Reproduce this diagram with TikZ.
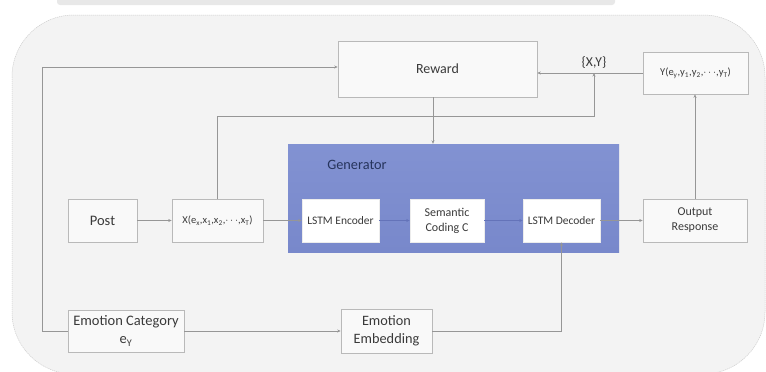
\documentclass[tikz,border=0pt]{standalone}
\usepackage{fontspec}
\setmainfont{Carlito}
\usetikzlibrary{arrows.meta}

\definecolor{panelfill}{RGB}{243,243,243}
\definecolor{panelrim}{RGB}{205,205,205}
\definecolor{edgegray}{RGB}{185,185,185}
\definecolor{boxfill}{RGB}{249,249,249}
\definecolor{linegray}{RGB}{150,150,150}
\definecolor{txt}{RGB}{58,58,58}
\definecolor{genblue}{RGB}{120,136,203}
\definecolor{genbluetop}{RGB}{130,146,210}
\definecolor{genline}{RGB}{100,115,185}
\definecolor{gentext}{RGB}{38,52,92}
\definecolor{markgray}{RGB}{232,232,232}

\newcommand{\fsz}[1]{\fontsize{#1}{#1}\selectfont}

\begin{document}
\begin{tikzpicture}[x=1pt,y=-1pt,
  box/.style={draw=edgegray, fill=boxfill, line width=0.6pt, text=txt,
              align=center, inner sep=0pt},
  innerbox/.style={box, fill=white, draw=white!85!gray},
  conn/.style={draw=linegray, line width=0.6pt,
               -{Stealth[length=3.5pt,width=3pt]}},
  genconn/.style={conn, draw=genline}]

% canvas
\useasboundingbox (0,0) rectangle (766,372);
\fill[white] (0,0) rectangle (766,372);
\fill[markgray, rounded corners=3pt] (57,-6) rectangle (615,5);

% rounded background panel
\draw[panelrim, fill=panelfill, line width=0.5pt,
      dash pattern=on 1.2pt off 0.8pt, rounded corners=62pt]
  (12,15) rectangle (765,374);

% generator block
\node[draw=none, top color=genbluetop, bottom color=genblue,
      minimum width=331pt, minimum height=108pt, inner sep=0pt]
  (gen) at (453.5,198) {};
\node[text=gentext, font=\fsz{14.3}] (genlabel) at (357,165) {Generator};

% boxes
\node[box, minimum width=199pt, minimum height=56pt, font=\fsz{14}]
  (reward) at (437.5,69) {Reward};
\node[box, minimum width=105pt, minimum height=42pt, font=\fsz{10.5}]
  (ybox) at (695.5,73)
  {Y(e\textsubscript{y},y\textsubscript{1},y\textsubscript{2},$\cdots$,y\textsubscript{T})};
\node[box, minimum width=69pt, minimum height=43pt, font=\fsz{14.5}]
  (post) at (102.5,220.5) {Post};
\node[box, minimum width=91pt, minimum height=43pt, font=\fsz{10.5}]
  (xbox) at (217.5,220.5)
  {X(e\textsubscript{x},x\textsubscript{1},x\textsubscript{2},$\cdots$,x\textsubscript{T})};
\node[innerbox, minimum width=77pt, minimum height=43pt, font=\fsz{11.5}]
  (enc) at (340.5,220.5) {LSTM Encoder};
\node[innerbox, minimum width=74pt, minimum height=43pt,
      font=\fontsize{12}{15}\selectfont]
  (sem) at (447,220.5) {Semantic\\Coding C};
\node[innerbox, minimum width=77pt, minimum height=43pt, font=\fsz{11.5}]
  (dec) at (561.5,220.5) {LSTM Decoder};
\node[box, minimum width=104pt, minimum height=43pt,
      font=\fontsize{12}{15}\selectfont]
  (out) at (695,220.5) {Output\\Response};
\node[box, minimum width=116pt, minimum height=42pt,
      font=\fontsize{14.5}{20}\selectfont]
  (emocat) at (126,331) {Emotion Category\\[-2pt]e\textsubscript{Y}};
\node[box, minimum width=91pt, minimum height=44pt,
      font=\fontsize{14.3}{18}\selectfont]
  (emoemb) at (386.5,331) {Emotion\\Embedding};

% {X,Y} pair label and junction
\coordinate (xy) at (594,73);
\node[text=txt, font=\fsz{13.6}] (xylabel) at (594,63) {\{X,Y\}};
\coordinate (rail) at (400,116);
\coordinate (leftrail) at (42,200);

% connectors
\draw[conn] (post) -- (xbox);
\draw[conn] (xbox) -- (enc);
\draw[genconn] (enc) -- (sem);
\draw[genconn] (sem) -- (dec);
\draw[conn] (dec) -- (out);
\draw[conn] (out.north) -- (out.north |- ybox.south);
\draw[conn] (ybox.west) -- (reward.east |- ybox.west);
\draw[conn] (xbox.north) -- (xbox.north |- rail) -| (xy);
\draw[conn] ([xshift=-4.5pt]reward.south) -- ([xshift=-4.5pt]reward.south |- gen.north);
\draw[conn] (emocat.west) -- (emocat.west -| leftrail)
  |- ([yshift=2pt]reward.west);
\draw[conn] (emocat) -- (emoemb);
\draw[conn] (emoemb.east) -| (dec.south);

\end{tikzpicture}
\end{document}
